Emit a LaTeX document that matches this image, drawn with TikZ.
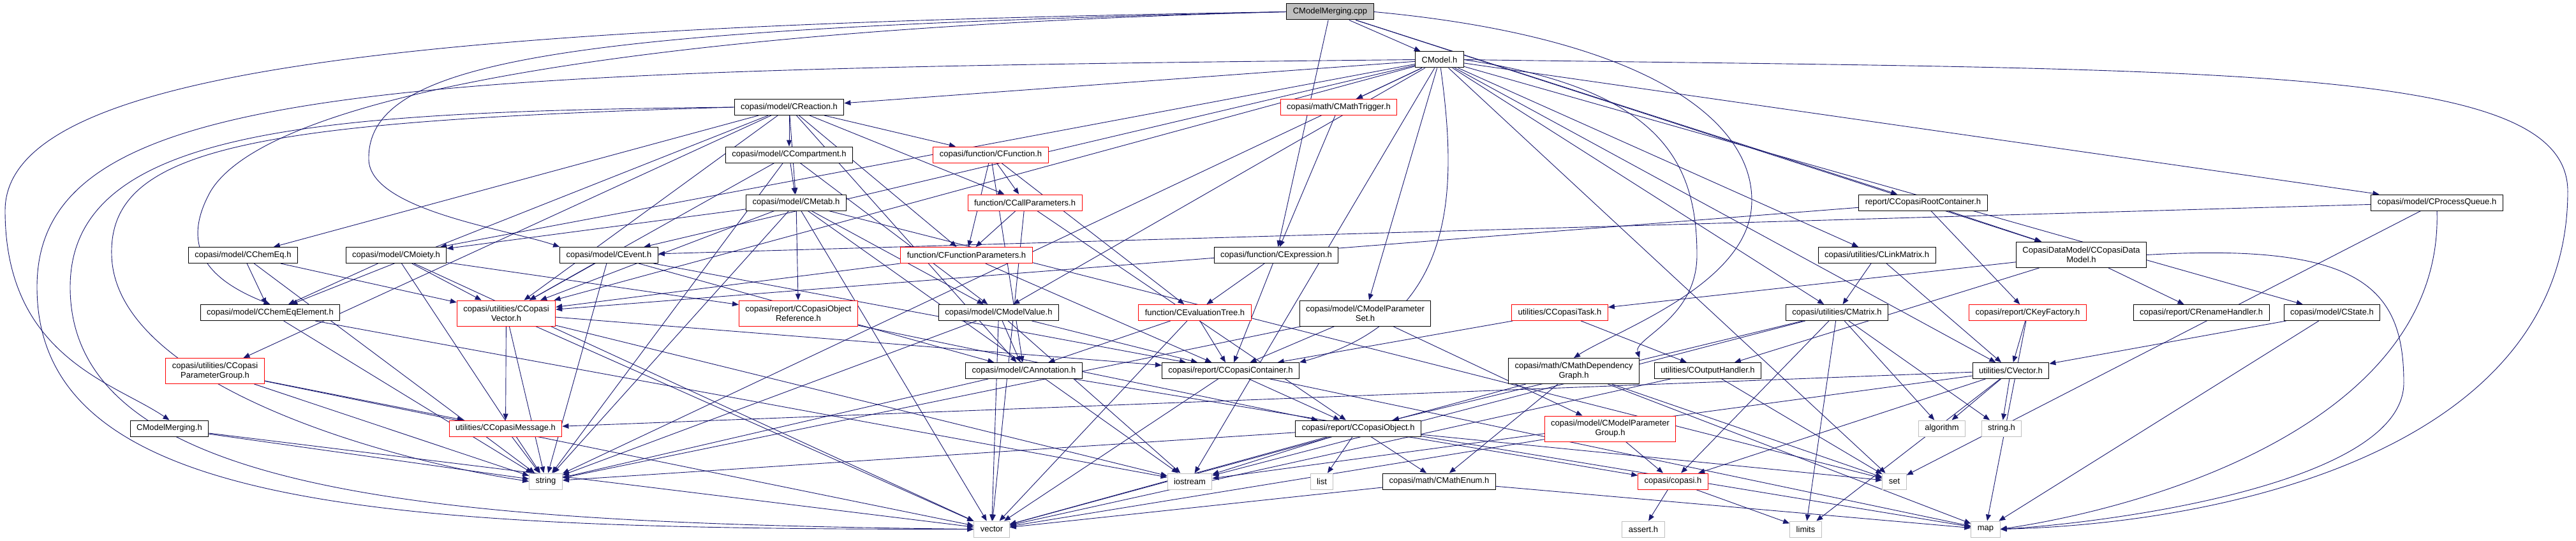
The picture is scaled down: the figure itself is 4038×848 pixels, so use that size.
\documentclass[tikz,border=0pt]{standalone}
\usepackage{fontspec}
\setmainfont{Liberation Sans}
\usetikzlibrary{arrows.meta,backgrounds}
\definecolor{depblue}{RGB}{25,25,112}
\begin{document}
\begin{tikzpicture}[x=1pt,y=-1pt,font=\fontsize{13}{15}\selectfont,>={Triangle[length=10pt,width=8pt]},
  box/.style={draw,fill=white,line width=1pt,inner xsep=10pt,inner ysep=2pt,minimum height=25pt},
  trunc/.style={box,draw=red},
  sys/.style={box,draw=black!25},
  two/.style={align=center,minimum height=40pt},
  dep/.style={->,draw=depblue,line width=0.9pt}]
  \useasboundingbox (0,0) rectangle (4038,848);
  \node[box,fill=black!25] (mcpp) at (2085,18.5) {CModelMerging.cpp};
  \node[box] (model) at (2256.5,93.5) {CModel.h};
  \node[trunc] (mathtrig) at (2098.5,168) {copasi/math/CMathTrigger.h};
  \node[box] (reaction) at (1237,168) {copasi/model/CReaction.h};
  \node[box] (compartment) at (1237,242.5) {copasi/model/CCompartment.h};
  \node[trunc] (function) at (1553,242.5) {copasi/function/CFunction.h};
  \node[box] (metab) at (1248,317.5) {copasi/model/CMetab.h};
  \node[trunc] (callparams) at (1606.5,317.5) {function/CCallParameters.h};
  \node[box] (root) at (3014.5,317.5) {report/CCopasiRootContainer.h};
  \node[box] (processqueue) at (3820,317.5) {copasi/model/CProcessQueue.h};
  \node[box] (chemeq) at (381,400) {copasi/model/CChemEq.h};
  \node[box] (moiety) at (621,400) {copasi/model/CMoiety.h};
  \node[box] (event) at (954.5,400) {copasi/model/CEvent.h};
  \node[trunc] (funcparams) at (1515,400) {function/CFunctionParameters.h};
  \node[box] (expr) at (2000.5,400) {copasi/function/CExpression.h};
  \node[box] (linkmatrix) at (2942,400) {copasi/utilities/CLinkMatrix.h};
  \node[box,two] (datamodel) at (3262.5,399.5) {CopasiDataModel/CCopasiData\\Model.h};
  \node[box] (chemeqel) at (423.5,490) {copasi/model/CChemEqElement.h};
  \node[trunc,two] (copasivector) at (793.5,491) {copasi/utilities/CCopasi\\Vector.h};
  \node[trunc,two] (objref) at (1251.5,491) {copasi/report/CCopasiObject\\Reference.h};
  \node[box] (modelvalue) at (1565.5,490) {copasi/model/CModelValue.h};
  \node[trunc] (evaltree) at (1873,490) {function/CEvaluationTree.h};
  \node[box,two] (mps) at (2140,491) {copasi/model/CModelParameter\\Set.h};
  \node[trunc] (task) at (2445,490) {utilities/CCopasiTask.h};
  \node[box] (matrix) at (2879.5,490) {copasi/utilities/CMatrix.h};
  \node[trunc] (keyfactory) at (3178.5,490) {copasi/report/CKeyFactory.h};
  \node[box] (renamehandler) at (3450.5,490) {copasi/report/CRenameHandler.h};
  \node[box] (state) at (3655.5,490) {copasi/model/CState.h};
  \node[trunc,two] (paramgroup) at (337,581.5) {copasi/utilities/CCopasi\\ParameterGroup.h};
  \node[box] (annotation) at (1605,581) {copasi/model/CAnnotation.h};
  \node[box] (copasicontainer) at (1929,581) {copasi/report/CCopasiContainer.h};
  \node[box,two] (mathdep) at (2467,581.5) {copasi/math/CMathDependency\\Graph.h};
  \node[box] (outputhandler) at (2677,581) {utilities/COutputHandler.h};
  \node[box] (cvector) at (3152,581) {utilities/CVector.h};
  \node[box] (mh) at (265.5,671.5) {CModelMerging.h};
  \node[trunc] (copasimessage) at (792.5,671.5) {utilities/CCopasiMessage.h};
  \node[box] (copasiobject) at (2129,671.5) {copasi/report/CCopasiObject.h};
  \node[trunc,two] (modelparamgroup) at (2524,672) {copasi/model/CModelParameter\\Group.h};
  \node[sys] (algorithm) at (3044,671.5) {algorithm};
  \node[sys] (stringh) at (3137.5,671.5) {string.h};
  \node[sys] (string) at (855.5,754.5) {string};
  \node[sys] (iostream) at (1865,754.5) {iostream};
  \node[sys] (list) at (2072,754.5) {list};
  \node[box] (mathenum) at (2256,754.5) {copasi/math/CMathEnum.h};
  \node[trunc] (copasih) at (2622.5,754.5) {copasi/copasi.h};
  \node[sys] (set) at (2969.5,754.5) {set};
  \node[sys] (vector) at (1554.5,829.5) {vector};
  \node[sys] (asserth) at (2576,829.5) {assert.h};
  \node[sys] (limits) at (2830.5,829.5) {limits};
  \node[sys] (map) at (3112.5,829.5) {map};
  \begin{scope}[on background layer]
    \draw[dep] (mcpp) -- (model); \draw[dep] (mcpp) -- (expr); \draw[dep] (mcpp) -- (root);
    \draw[dep] (mcpp) -- (datamodel);
    \draw[dep] (mcpp.east) .. controls (2600,60) and (2760,200) .. (2745,330) .. controls (2730,450) and (2530,520) .. (mathdep.north);
    \draw[dep] (mcpp.west) .. controls (700,40) and (8,100) .. (8,330) .. controls (8,560) and (180,600) .. (mh.north);
    \draw[dep] (mcpp.west) .. controls (900,45) and (575,90) .. (578,250) .. controls (580,330) and (800,360) .. (event.north west);
    \draw[dep] (mcpp.west) .. controls (1000,45) and (420,150) .. (330,300) .. controls (280,390) and (330,440) .. (chemeqel.north);
    \draw[dep] (model) -- (mathtrig); \draw[dep] (model) -- (reaction); \draw[dep] (model) -- (moiety);
    \draw[dep] (model) -- (event); \draw[dep] (model) -- (modelvalue); \draw[dep] (model) -- (mps);
    \draw[dep] (model) -- (matrix); \draw[dep] (model) -- (cvector);
    \draw[dep] (model) -- (linkmatrix); \draw[dep] (model) -- (state); \draw[dep] (model) -- (processqueue);
    \draw[dep] (model) -- (copasivector); \draw[dep] (model) -- (set); \draw[dep] (model) -- (string);
    \draw[dep] (model) -- (iostream);
    \draw[dep] (model.east) .. controls (2600,140) and (2660,250) .. (2660,400) .. controls (2660,500) and (2560,530) .. (mathdep.north east);
    \draw[dep] (model) .. controls (2285,300) and (2285,500) .. (copasicontainer.north east);
    \draw[dep] (model.west) .. controls (600,110) and (58,130) .. (58,450) .. controls (58,800) and (600,830) .. (vector.west);
    \draw[dep] (model.east) .. controls (3500,110) and (4025,100) .. (4025,300) .. controls (4025,700) and (3500,820) .. (map.east);
    \draw[dep] (reaction) -- (compartment); \draw[dep] (reaction) -- (function); \draw[dep] (reaction) -- (metab);
    \draw[dep] (reaction) -- (callparams); \draw[dep] (reaction) -- (funcparams); \draw[dep] (reaction) -- (chemeq);
    \draw[dep] (reaction) -- (copasivector); \draw[dep] (reaction) -- (annotation); \draw[dep] (reaction) -- (paramgroup);
    \draw[dep] (reaction) -- (chemeqel);
    \draw[dep] (reaction.west) .. controls (500,175) and (110,200) .. (110,450) .. controls (110,780) and (700,820) .. (vector.west);
    \draw[dep] (reaction.west) .. controls (400,190) and (170,230) .. (175,400) .. controls (180,600) and (600,720) .. (string.west);
    \draw[dep] (compartment) -- (metab); \draw[dep] (compartment) -- (copasivector);
    \draw[dep] (compartment) -- (modelvalue); \draw[dep] (compartment) -- (string);
    \draw[dep] (function) -- (callparams); \draw[dep] (function) -- (funcparams);
    \draw[dep] (function) -- (evaltree); \draw[dep] (function) -- (annotation);
    \draw[dep] (callparams) -- (funcparams); \draw[dep] (callparams) -- (vector); \draw[dep] (callparams) -- (copasiobject);
    \draw[dep] (funcparams) -- (copasivector); \draw[dep] (funcparams) -- (copasicontainer);
    \draw[dep] (metab) -- (moiety); \draw[dep] (metab) -- (objref); \draw[dep] (metab) -- (modelvalue);
    \draw[dep] (metab) -- (copasivector); \draw[dep] (metab) -- (string); \draw[dep] (metab) -- (iostream);
    \draw[dep] (metab) -- (vector); \draw[dep] (metab) -- (set);
    \draw[dep] (chemeq) -- (chemeqel); \draw[dep] (chemeq) -- (copasivector); \draw[dep] (chemeq) -- (string);
    \draw[dep] (moiety) -- (chemeqel); \draw[dep] (moiety) -- (copasivector); \draw[dep] (moiety) -- (objref);
    \draw[dep] (moiety) -- (string); \draw[dep] (moiety) -- (vector);
    \draw[dep] (event) -- (copasivector); \draw[dep] (event) -- (string);
    \draw[dep] (event) -- (annotation); \draw[dep] (event) -- (copasicontainer);
    \draw[dep] (chemeqel) -- (string); \draw[dep] (chemeqel) -- (iostream);
    \draw[dep] (copasivector) -- (copasimessage); \draw[dep] (copasivector) -- (string); \draw[dep] (copasivector) -- (iostream);
    \draw[dep] (copasivector) -- (vector); \draw[dep] (copasivector) -- (copasicontainer);
    \draw[dep] (paramgroup) -- (copasimessage); \draw[dep] (paramgroup) -- (string); \draw[dep] (paramgroup) -- (vector);
    \draw[dep] (mh) -- (string); \draw[dep] (mh) -- (vector);
    \draw[dep] (objref) -- (copasiobject);
    \draw[dep] (modelvalue) -- (annotation); \draw[dep] (modelvalue) -- (copasicontainer); \draw[dep] (modelvalue) -- (iostream);
    \draw[dep] (modelvalue) -- (vector); \draw[dep] (modelvalue) -- (string);
    \draw[dep] (evaltree) -- (annotation); \draw[dep] (evaltree) -- (vector); \draw[dep] (evaltree) -- (copasicontainer);
    \draw[dep] (expr) -- (evaltree); \draw[dep] (expr) -- (copasicontainer);
    \draw[dep] (mathtrig) -- (expr);
    \draw[dep] (mps) -- (copasicontainer); \draw[dep] (mps) -- (modelparamgroup); \draw[dep] (mps) -- (string);
    \draw[dep] (task) -- (copasicontainer); \draw[dep] (task) -- (outputhandler);
    \draw[dep] (root) -- (datamodel); \draw[dep] (root) -- (keyfactory); \draw[dep] (root) -- (copasivector);
    \draw[dep] (datamodel) -- (task); \draw[dep] (datamodel) -- (renamehandler); \draw[dep] (datamodel) -- (outputhandler);
    \draw[dep] (datamodel.east) .. controls (3700,380) and (3768,450) .. (3768,600) .. controls (3768,760) and (3300,820) .. (map.east);
    \draw[dep] (linkmatrix) -- (matrix); \draw[dep] (linkmatrix) -- (cvector);
    \draw[dep] (matrix) -- (copasiobject); \draw[dep] (matrix) -- (copasih); \draw[dep] (matrix) -- (limits);
    \draw[dep] (matrix) -- (algorithm); \draw[dep] (matrix) -- (stringh); \draw[dep] (matrix) -- (iostream);
    \draw[dep] (cvector) -- (algorithm); \draw[dep] (cvector) -- (stringh); \draw[dep] (cvector) -- (copasih);
    \draw[dep] (cvector) -- (copasimessage); \draw[dep] (cvector) -- (iostream); \draw[dep] (cvector) -- (limits);
    \draw[dep] (keyfactory) -- (cvector); \draw[dep] (keyfactory) -- (map);
    \draw[dep] (state) -- (cvector); \draw[dep] (state) -- (map);
    \draw[dep] (processqueue) -- (event); \draw[dep] (processqueue) -- (set);
    \draw[dep] (processqueue.south) .. controls (3830,650) and (3400,790) .. (map.east);
    \draw[dep] (annotation) -- (string); \draw[dep] (annotation) -- (map);
    \draw[dep] (copasicontainer) -- (copasiobject); \draw[dep] (copasicontainer) -- (vector); \draw[dep] (copasicontainer) -- (map);
    \draw[dep] (mathdep) -- (mathenum); \draw[dep] (mathdep) -- (map); \draw[dep] (mathdep) -- (set); \draw[dep] (mathdep) -- (vector);
    \draw[dep] (outputhandler) -- (vector); \draw[dep] (outputhandler) -- (set);
    \draw[dep] (copasiobject) -- (string); \draw[dep] (copasiobject) -- (iostream); \draw[dep] (copasiobject) -- (list);
    \draw[dep] (copasiobject) -- (mathenum); \draw[dep] (copasiobject) -- (copasih); \draw[dep] (copasiobject) -- (set);
    \draw[dep] (copasiobject) -- (vector);
    \draw[dep] (modelparamgroup) -- (copasih); \draw[dep] (modelparamgroup) -- (vector);
    \draw[dep] (mathenum) -- (vector); \draw[dep] (mathenum) -- (map);
    \draw[dep] (copasih) -- (asserth); \draw[dep] (copasih) -- (limits);
    \draw[dep] (copasimessage) -- (string);
  \end{scope}
\end{tikzpicture}
\end{document}
